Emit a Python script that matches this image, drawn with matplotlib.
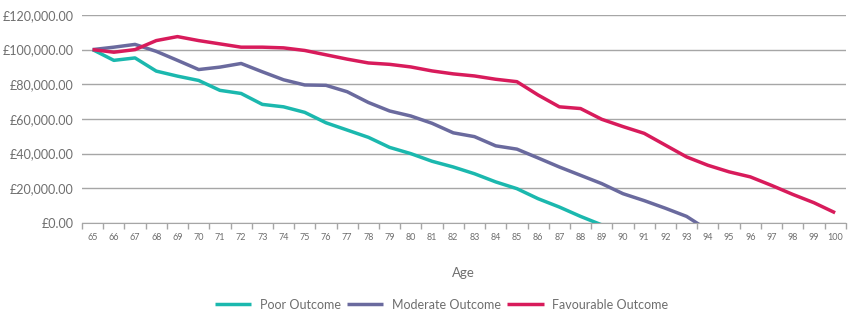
import matplotlib.pyplot as plt
import numpy as np
from matplotlib.ticker import FuncFormatter, FixedLocator

ages = list(range(65, 101))

# values in £ thousands; last point of the
# shorter series dips below zero and is clipped by the axis
poor = [100.0, 93.8, 95.2, 87.6, 84.7, 82.2, 76.5, 74.7, 68.4, 67.0,
        63.8, 57.8, 53.6, 49.4, 43.6, 40.0, 35.6, 32.3, 28.4, 23.7,
        19.8, 14.0, 9.2, 3.8, -1.1]
moderate = [100.0, 101.4, 103.0, 99.0, 93.8, 88.5, 89.9, 92.0, 87.2, 82.6,
            79.6, 79.4, 75.7, 69.5, 64.6, 61.7, 57.5, 52.0, 49.8, 44.5,
            42.6, 37.5, 32.3, 27.5, 22.7, 16.9, 12.9, 8.5, 3.8, -4.1]
favourable = [100.0, 98.5, 100.0, 105.2, 107.5, 105.2, 103.3, 101.4, 101.4, 101.0,
              99.5, 97.0, 94.5, 92.3, 91.5, 90.0, 87.7, 86.0, 84.8, 82.9,
              81.5, 73.8, 67.0, 66.0, 59.8, 55.6, 51.7, 44.9, 38.1, 33.3,
              29.5, 26.6, 21.7, 16.5, 11.7, 5.9]

series = [
    ("Poor Outcome", poor, "#1bb8ae"),
    ("Moderate Outcome", moderate, "#6a6a9e"),
    ("Favourable Outcome", favourable, "#d81b5b"),
]

plt.rcParams["font.family"] = ["Lato", "DejaVu Sans"]
text_col = "#6e6e6e"
grid_col = "#a6a6a6"

fig = plt.figure(figsize=(8.56, 3.11), dpi=100)
ax = fig.add_axes([0.0958, 0.283, 0.8922, 0.669])

for name, vals, col in series:
    x = np.arange(len(vals))
    y = np.array(vals) * 1000
    ax.plot(x, y, color=col, lw=2.5, label=name, solid_capstyle="butt",
            solid_joinstyle="round")

ax.set_xlim(-0.5, len(ages) - 0.5)
ax.set_ylim(0, 120000)
ax.set_yticks(np.arange(0, 120001, 20000))
ax.yaxis.set_major_formatter(FuncFormatter(lambda v, p: f"£{v:,.2f}"))
ax.grid(axis="y", color=grid_col, lw=1)
ax.set_axisbelow(True)

ax.set_xticks(np.arange(len(ages)))
ax.set_xticklabels([str(a) for a in ages])
ax.xaxis.set_minor_locator(FixedLocator(np.arange(len(ages) + 1) - 0.5))
ax.tick_params(axis="x", which="major", length=0, labelsize=6.5,
               labelcolor=text_col, pad=7)
ax.tick_params(axis="x", which="minor", length=4, color=grid_col, width=1)
ax.tick_params(axis="y", length=0, labelsize=9, labelcolor=text_col, pad=6)

for s in ["top", "right", "left"]:
    ax.spines[s].set_visible(False)
ax.spines["bottom"].set_color(grid_col)

ax.set_xlabel("Age", fontsize=9.5, color=text_col, labelpad=18)

fig.legend(loc="lower center", bbox_to_anchor=(0.516, -0.035), ncol=3,
           frameon=False, fontsize=9, labelcolor=text_col,
           handlelength=2.9, handletextpad=0.7, columnspacing=0.5)

fig.savefig("out.png", dpi=100)
